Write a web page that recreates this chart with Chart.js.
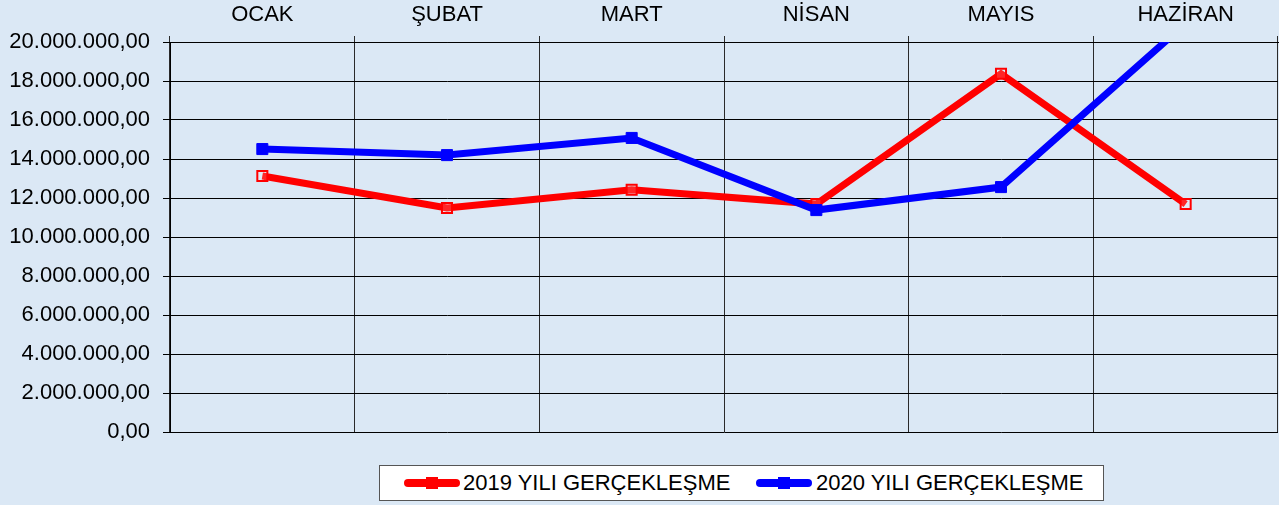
<!DOCTYPE html>
<html>
<head>
<meta charset="utf-8">
<script src="https://cdn.jsdelivr.net/npm/chart.js@4"></script>
<style>
  html, body { margin: 0; padding: 0; }
  body { width: 1279px; height: 505px; overflow: hidden; background: #dbe8f5; position: relative; font-family: "Liberation Sans", Arial, sans-serif; }
  #wrap { position: absolute; left: 0; top: 0; width: 1279px; height: 505px; }
  #legend { position: absolute; left: 379px; top: 465px; width: 723px; height: 34px; background: #fff; border: 1px solid #555; box-sizing: content-box; }
  .item { position: absolute; top: 0; height: 34px; line-height: 34px; font-size: 22px; color: #000; white-space: nowrap; }
  .sym { position: absolute; top: 13px; width: 56px; height: 8px; border-radius: 4px; }
  .sq { position: absolute; top: -2px; left: 22px; width: 12px; height: 12px; }
</style>
</head>
<body>
<div id="wrap"><canvas id="c" width="1279" height="505"></canvas></div>
<div id="legend">
  <div class="item" style="left:24px;"><span class="sym" style="left:0;background:#ff0000;"><span class="sq" style="background:#ff0000;"></span></span><span style="margin-left:59px;" id="l0"></span></div>
  <div class="item" style="left:376px;"><span class="sym" style="left:0;background:#0000ff;"><span class="sq" style="background:#0000ff;"></span></span><span style="margin-left:60px;" id="l1"></span></div>
</div>
<script>
const categories = ["OCAK", "ŞUBAT", "MART", "NİSAN", "MAYIS", "HAZİRAN"];
const seriesNames = ["2019 YILI GERÇEKLEŞME", "2020 YILI GERÇEKLEŞME"];
const values2019 = [13130000, 11490000, 12420000, 11690000, 18370000, 11690000];
const values2020 = [14510000, 14200000, 15080000, 11380000, 12560000, 20950000];
const yTicks = [0, 2000000, 4000000, 6000000, 8000000, 10000000, 12000000, 14000000, 16000000, 18000000, 20000000];

document.getElementById('l0').textContent = seriesNames[0];
document.getElementById('l1').textContent = seriesNames[1];

function trFormat(v) {
  const int = Math.round(v).toString().replace(/\B(?=(\d{3})+(?!\d))/g, '.');
  return int + ',00';
}

const FONT = "'Liberation Sans', Arial, sans-serif";

new Chart(document.getElementById('c'), {
  type: 'line',
  data: {
    labels: categories,
    datasets: [
      {
        label: seriesNames[0],
        data: values2019,
        borderColor: '#ff0000',
        borderWidth: 7,
        pointStyle: 'rect',
        pointRadius: 7.1,
        pointBorderWidth: 2,
        pointBorderColor: '#ff0000',
        pointBackgroundColor: 'rgba(255,255,255,0.15)',
        tension: 0,
        clip: 0,
        order: 2
      },
      {
        label: seriesNames[1],
        data: values2020,
        borderColor: '#0000ff',
        borderWidth: 7,
        pointStyle: 'rect',
        pointRadius: 7.8,
        pointBorderWidth: 1,
        pointBorderColor: '#0000ff',
        pointBackgroundColor: '#0000ff',
        tension: 0,
        clip: 0,
        order: 1
      }
    ]
  },
  options: {
    responsive: false,
    animation: false,
    devicePixelRatio: 1,
    layout: { autoPadding: false, padding: { left: 0, top: 0, right: 1, bottom: 73 } },
    plugins: { legend: { display: false }, tooltip: { enabled: false } },
    scales: {
      x: {
        position: 'top',
        offset: true,
        grid: { offset: true, color: '#2a2a2a', lineWidth: 1, tickLength: 6, drawTicks: true },
        border: { display: true, color: '#000' },
        ticks: { color: '#000', font: { family: FONT, size: 22 }, padding: 8, maxRotation: 0 },
        afterFit: s => { s.height = 42; }
      },
      y: {
        min: 0,
        max: 20000000,
        afterBuildTicks: s => { s.ticks = yTicks.map(v => ({ value: v })); },
        grid: { color: '#000', lineWidth: 1, tickLength: 7 },
        border: { display: true, color: '#000', width: 1 },
        ticks: { color: '#000', font: { family: FONT, size: 22 }, padding: 13, callback: v => trFormat(v) },
        afterFit: s => { s.width = 170; }
      }
    }
  }
});
</script>
</body>
</html>
